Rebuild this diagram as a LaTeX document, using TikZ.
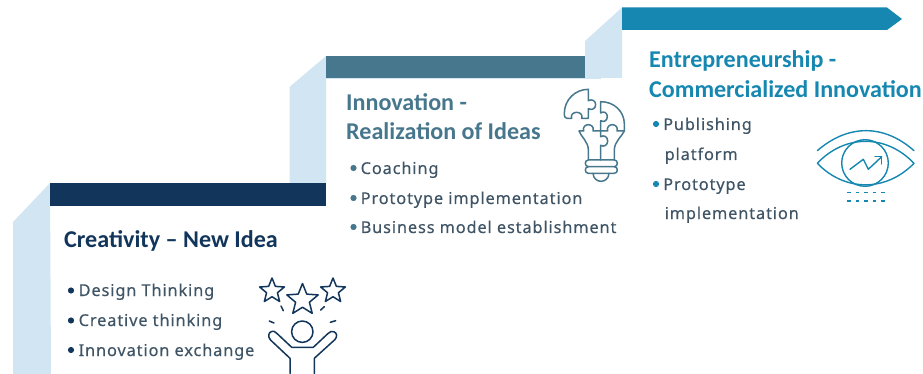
\documentclass[tikz,border=0pt]{standalone}
\usepackage{fontspec}
\setmainfont{Noto Sans}
\newfontfamily\titlefont{Carlito}[BoldFont=Carlito Bold]
\newfontfamily\bodyfont{Noto Sans}[LetterSpace=5.5,FakeBold=0.35]
\definecolor{lightb}{HTML}{D2E5F3}
\definecolor{navy}{HTML}{12355B}
\definecolor{teal}{HTML}{47778C}
\definecolor{cyanb}{HTML}{1587B0}
\definecolor{bodyc}{HTML}{3F5465}
\tikzset{
  titletext/.style={anchor=base west,inner sep=0pt,font=\titlefont\bfseries\fontsize{24.1}{26}\selectfont},
  bodytext/.style={anchor=base west,inner sep=0pt,text=bodyc,font=\bodyfont\fontsize{16.3}{20}\selectfont},
  bulletdot/.style={circle,inner sep=0pt,minimum size=6.2pt},
  icon/.style={line width=1.5pt,line join=round,line cap=round,fill=none}
}
\begin{document}
\begin{tikzpicture}[x=1pt,y=-1pt]
\useasboundingbox (0,0) rectangle (923,374);
% steps
\fill[lightb] (13,222) -- (50,183) -- (51,374) -- (13,374) -- cycle;
\fill[lightb] (289.5,87) -- (326,56) -- (326,183) -- (289.5,183) -- cycle;
\fill[lightb] (326,77.5) rectangle (601,78.6);
\fill[lightb] (585,41) -- (622,7.5) -- (622,78) -- (585,78) -- cycle;
\fill[navy] (50,183) rectangle (325.5,206);
\fill[teal] (326,56) rectangle (585,78);
\fill[cyanb] (622,7.5) -- (887,7.5) -- (902,19) -- (887,30) -- (622,30) -- cycle;
% titles
\node[titletext,text=navy] (t1) at (64,247) {Creativity – New Idea};
\node[titletext,text=teal] (t2a) at (346,110.5) {Innovation -};
\node[titletext,text=teal] (t2b) at (346,140) {Realization of Ideas};
\node[titletext,text=cyanb] (t3a) at (649,68) {Entrepreneurship -};
\node[titletext,text=cyanb] (t3b) at (649,98) {Commercialized Innovation};
% lists
\node[bulletdot,fill=navy] (b11) at (71,290.5) {};
\node[bulletdot,fill=navy] (b12) at (71,320.5) {};
\node[bulletdot,fill=navy] (b13) at (71,350) {};
\node[bodytext] (l11) at (78.5,296) {Design Thinking};
\node[bodytext] (l12) at (78.5,326) {Creative thinking};
\node[bodytext] (l13) at (78.5,356) {Innovation exchange};
\node[bulletdot,fill=teal] (b21) at (353.5,168) {};
\node[bulletdot,fill=teal] (b22) at (353.5,198) {};
\node[bulletdot,fill=teal] (b23) at (353.5,227) {};
\node[bodytext] (l21) at (360.5,174) {Coaching};
\node[bodytext] (l22) at (360.5,204) {Prototype implementation};
\node[bodytext] (l23) at (360.5,233) {Business model establishment};
\node[bulletdot,fill=cyanb] (b31) at (656,124) {};
\node[bulletdot,fill=cyanb] (b32) at (656,184) {};
\node[bodytext] (l31) at (663,130) {Publishing};
\node[bodytext] (l32) at (664.5,160) {platform};
\node[bodytext] (l33) at (663,190) {Prototype};
\node[bodytext] (l34) at (664.5,219) {implementation};
% person icon
\begin{scope}[icon,draw=navy]
\foreach \cx/\cy/\r in {272/291/13,302.5/300/16.5,333/291/13}{
  \draw ({\cx+\r*cos(90)},{\cy-\r*sin(90)})
    \foreach \k in {1,...,9}{ -- ({\cx+(\r*(1-0.56*mod(\k,2)))*cos(90+36*\k)},{\cy-(\r*(1-0.56*mod(\k,2)))*sin(90+36*\k)}) } -- cycle;
}
\draw (302.3,331.7) circle[radius=10.7pt];
\draw (290,373.5) -- (290,358.3) -- (270.5,340)
  .. controls (267.5,336.5) and (268.5,332.5) .. (271.5,331.5)
  .. controls (273.5,330.8) and (275,331.5) .. (277,333.5)
  -- (291.7,347.3) -- (313.3,347.3) -- (328,333.5)
  .. controls (330,331.5) and (332,330.8) .. (334,331.8)
  .. controls (337,333) and (337.5,336.5) .. (335,339.5)
  -- (314.3,358.3) -- (314.3,373.5);
\draw (281,306) -- (283.3,310.7);
\draw (320.7,310) -- (324.3,306.7);
\draw (269.3,321) -- (274,323);
\draw (330.3,322.3) -- (335.7,320.7);
\end{scope}
% bulb icon
\begin{scope}[shift={(555,80)},x=0.3333pt,y=-0.3333pt,icon,draw=teal]
\draw (100,28) -- (100,62) .. controls (110,56) and (122,62) .. (122,74)
  .. controls (122,86) and (110,92) .. (100,86) -- (100,115) -- (80,115)
  .. controls (84,104) and (75,97) .. (65,97) .. controls (55,97) and (46,104) .. (50,115)
  -- (36,115) .. controls (30,115) and (28,110) .. (28,100) .. controls (28,60) and (60,28) .. (100,28) -- cycle;
\draw (137,65) .. controls (178,65) and (208,95) .. (208,132) -- (208,153) -- (186,153)
  .. controls (190,142) and (181,134) .. (172,134) .. controls (163,134) and (154,142) .. (158,153) -- (137,153) -- (137,122)
  .. controls (146,128) and (157,122) .. (157,110) .. controls (157,98) and (146,92) .. (137,99) -- cycle;
\draw (137,153) -- (114,153) .. controls (118,142) and (109,134) .. (100,134) .. controls (91,134) and (82,142) .. (86,153) -- (72,153)
  .. controls (78,170) and (100,185) .. (100,210) -- (100,240);
\draw (208,153) .. controls (200,170) and (178,185) .. (178,210) -- (178,240);
\draw (137,153) -- (137,170) .. controls (146,164) and (158,170) .. (158,183) .. controls (158,196) and (146,202) .. (137,196) -- (137,240);
\draw (100,240) -- (178,240) .. controls (190,240) and (190,260) .. (178,260) -- (100,260) .. controls (88,260) and (88,240) .. (100,240) -- cycle;
\draw (100,260) .. controls (88,260) and (88,280) .. (100,280) -- (178,280) .. controls (190,280) and (190,260) .. (178,260);
\draw (114,280) .. controls (116,312) and (160,312) .. (162,280);
\end{scope}
% eye icon
\begin{scope}[icon,draw=cyanb,line width=1.4pt]
\draw (817.3,150.7) .. controls (848,124) and (884,124) .. (914,150.7);
\draw (817.3,163.3) .. controls (845,134) and (886,134) .. (914,163.3) .. controls (886,192) and (845,192) .. (817.3,163.3) -- cycle;
\draw (865,163) circle[radius=23.3pt];
\draw (850,169.3) -- (863.3,159.3) -- (868.3,169.3) -- (881.7,156.7);
\draw (875,156.7) -- (881.7,156.7) -- (881.7,164);
\draw[line cap=butt,dash pattern=on 3.5pt off 5pt] (847,192.7) -- (885,192.7);
\draw[line cap=butt,dash pattern=on 3.5pt off 5pt] (847,201) -- (885,201);
\end{scope}
\end{tikzpicture}
\end{document}
